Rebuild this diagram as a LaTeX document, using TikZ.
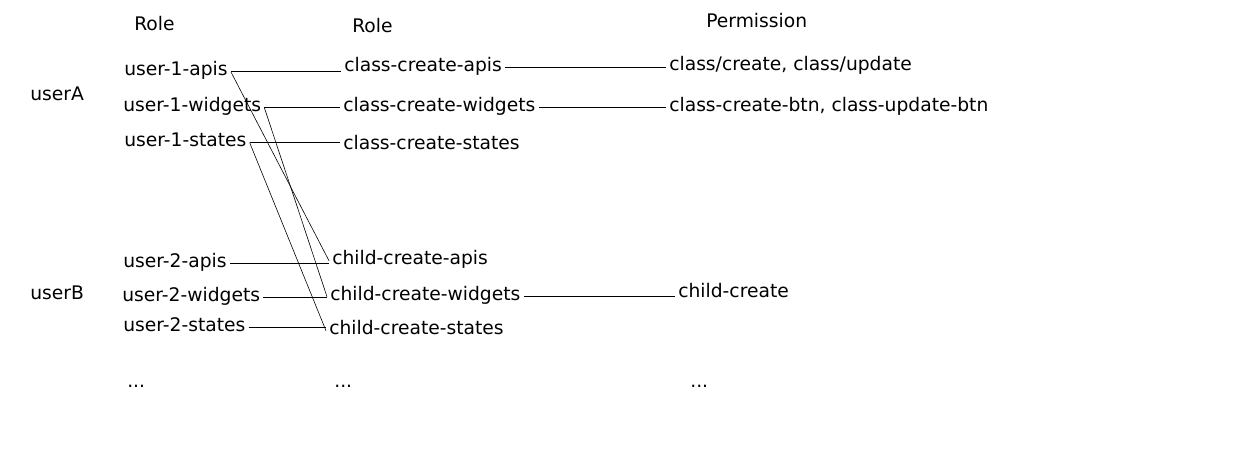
\documentclass[tikz,border=0pt]{standalone}
\usepackage{fontspec}
\setmainfont{DejaVu Sans}
\begin{document}
\begin{tikzpicture}[x=1pt, y=-1pt, line width=0.6pt,
    item/.style={anchor=base west, inner xsep=3pt, inner ysep=0pt,
      text height=0.8em, text depth=0.15em, font=\fontsize{18.7}{22}\selectfont}]
    \useasboundingbox (0,0) rectangle (1242,448);

    \node[item] (head1) at (131,30) {Role};
    \node[item] (head2) at (349,32) {Role};
    \node[item] (head3) at (703,27) {Permission};

    \node[item] (userA) at (27,100) {userA};
    \node[item] (userB) at (27,299) {userB};

    \node[item] (u1apis) at (121,75) {user-1-apis};
    \node[item] (u1widgets) at (120,111) {user-1-widgets};
    \node[item] (u1states) at (121,146) {user-1-states};
    \node[item] (u2apis) at (120,267) {user-2-apis};
    \node[item] (u2widgets) at (119,301) {user-2-widgets};
    \node[item] (u2states) at (120,331) {user-2-states};
    \node[item] (dots1) at (124,387) {...};

    \node[item] (ccapis) at (341,71) {class-create-apis};
    \node[item] (ccwidgets) at (340,111) {class-create-widgets};
    \node[item] (ccstates) at (340,149) {class-create-states};
    \node[item] (chapis) at (329,264) {child-create-apis};
    \node[item] (chwidgets) at (327,300) {child-create-widgets};
    \node[item] (chstates) at (326,334) {child-create-states};
    \node[item] (dots2) at (331,387) {...};

    \node[item] (perm1) at (666,70) {class/create, class/update};
    \node[item] (perm2) at (666,111) {class-create-btn, class-update-btn};
    \node[item] (perm3) at (675,297) {child-create};
    \node[item] (dots3) at (687,387) {...};

    % user -> role
    \draw (u1apis.east) -- (u1apis.east -| ccapis.west);
    \draw (u1widgets.east) -- (u1widgets.east -| ccwidgets.west);
    \draw (u1states.east) -- (u1states.east -| ccstates.west);
    \draw (u1apis.east) -- (chapis.west);
    \draw (u1widgets.east) -- (chwidgets.west);
    \draw (u1states.east) -- (chstates.west);
    \draw (u2apis.east) -- (u2apis.east -| chapis.west);
    \draw (u2widgets.east) -- (u2widgets.east -| chwidgets.west);
    \draw (u2states.east) -- (u2states.east -| chstates.west);

    % role -> permission
    \draw (ccapis.east) -- (ccapis.east -| perm1.west);
    \draw (ccwidgets.east) -- (ccwidgets.east -| perm2.west);
    \draw (chwidgets.east) -- (chwidgets.east -| perm3.west);
\end{tikzpicture}
\end{document}
